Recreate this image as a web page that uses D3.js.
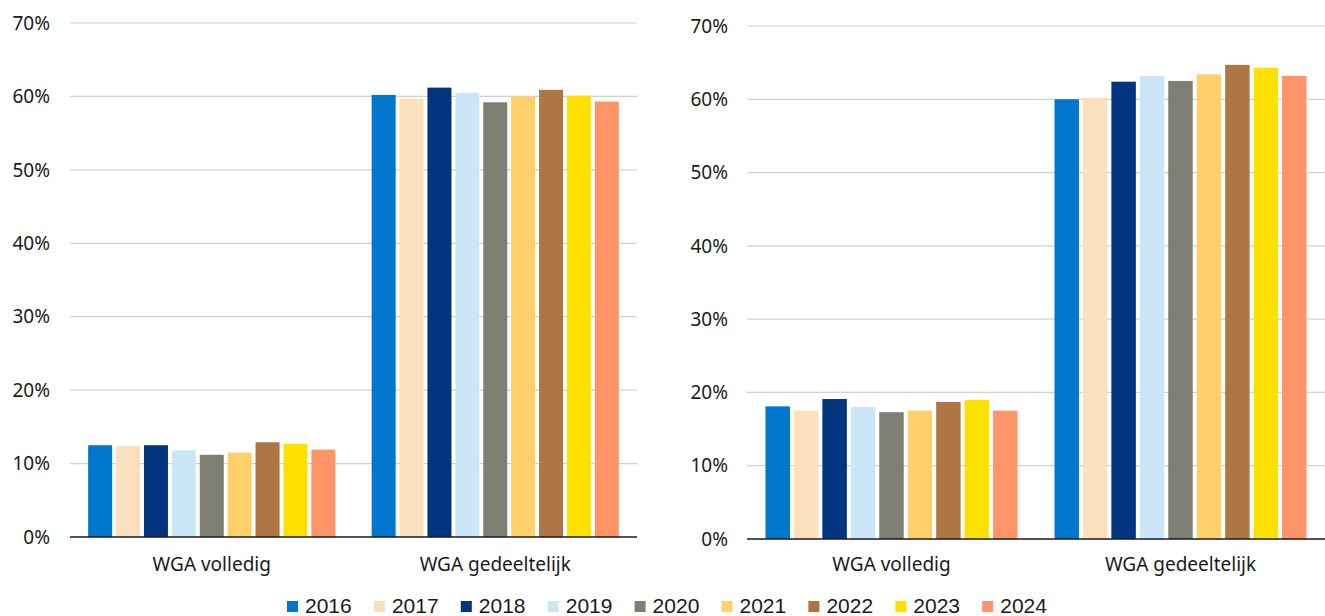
<!DOCTYPE html>
<html>
<head>
<meta charset="utf-8">
<script src="https://cdn.jsdelivr.net/npm/d3@7"></script>
<style>
  body { margin: 0; background: #fff; }
  svg text { font-family: "Noto Sans", sans-serif; fill: #1a1a1a; }
</style>
</head>
<body>
<svg id="chart" width="1325" height="616"></svg>
<script>
var categories = ["WGA volledig", "WGA gedeeltelijk"];
var years = ["2016", "2017", "2018", "2019", "2020", "2021", "2022", "2023", "2024"];
var colors = ["#0077cf", "#fbe0bd", "#01347f", "#cbe7f7", "#7e7e72", "#fed06a", "#ad7643", "#ffe100", "#ff9468"];
var yTicks = [0, 10, 20, 30, 40, 50, 60, 70];

// left panel values (%) per category, one per year
var leftVolledig = [12.5, 12.4, 12.5, 11.8, 11.2, 11.5, 12.9, 12.7, 11.9];
var leftGedeeltelijk = [60.2, 59.7, 61.2, 60.5, 59.2, 60.0, 60.9, 60.1, 59.3];
// right panel values (%)
var rightVolledig = [18.1, 17.5, 19.1, 18.0, 17.3, 17.5, 18.7, 19.0, 17.5];
var rightGedeeltelijk = [60.0, 60.2, 62.4, 63.2, 62.5, 63.4, 64.7, 64.3, 63.2];

var svg = d3.select("#chart");

function panel(opts, series) {
  var x0 = d3.scaleBand().domain(categories).range([opts.x0, opts.x1]);
  var groupW = x0.bandwidth() * 0.872;
  var x1 = d3.scaleBand().domain(years).range([0, groupW]).paddingInner(0.14);
  var y = d3.scaleLinear().domain([0, 70]).range([opts.y0, opts.y1]);

  var g = svg.append("g");

  // gridlines
  g.selectAll(".grid").data(yTicks.filter(function(d){ return d > 0; }))
    .enter().append("line")
    .attr("x1", opts.x0).attr("x2", opts.x1)
    .attr("y1", function(d){ return y(d); }).attr("y2", function(d){ return y(d); })
    .attr("stroke", "#d2d2d2").attr("stroke-width", 1.2);

  // tick labels
  g.selectAll(".tl").data(yTicks).enter().append("text")
    .attr("x", opts.labelX)
    .attr("y", function(d){ return y(d); })
    .attr("dy", "0.35em")
    .attr("text-anchor", "end")
    .style("font-size", "19px")
    .text(function(d){ return d + "%"; });

  // bars
  var groups = g.selectAll(".grp").data(categories).enter().append("g")
    .attr("transform", function(d){
      return "translate(" + (x0(d) + (x0.bandwidth() - groupW) / 2) + ",0)";
    });

  groups.selectAll("rect")
    .data(function(d, i){ return series[i].map(function(v, j){ return {year: years[j], v: v, c: colors[j]}; }); })
    .enter().append("rect")
    .attr("x", function(d){ return x1(d.year); })
    .attr("width", x1.bandwidth())
    .attr("y", function(d){ return y(d.v); })
    .attr("height", function(d){ return y(0) - y(d.v); })
    .attr("fill", function(d){ return d.c; });

  // baseline
  g.append("line")
    .attr("x1", opts.x0).attr("x2", opts.x1)
    .attr("y1", y(0)).attr("y2", y(0))
    .attr("stroke", "#1a1a1a").attr("stroke-width", 1.5);

  // category labels
  g.selectAll(".cl").data(categories).enter().append("text")
    .attr("x", function(d){ return x0(d) + x0.bandwidth() / 2; })
    .attr("y", 571)
    .attr("text-anchor", "middle")
    .style("font-size", "19px")
    .text(function(d){ return d; });
}

panel({x0: 70, x1: 637, y0: 537, y1: 23, labelX: 50}, [leftVolledig, leftGedeeltelijk]);
panel({x0: 747, x1: 1325, y0: 539, y1: 26, labelX: 728}, [rightVolledig, rightGedeeltelijk]);

// legend
var legend = svg.append("g").attr("transform", "translate(287,0)");
var item = legend.selectAll(".li").data(years).enter().append("g")
  .attr("transform", function(d, i){ return "translate(" + (i * 86.9) + ",0)"; });
item.append("rect")
  .attr("x", 0).attr("y", 601).attr("width", 11).attr("height", 11)
  .attr("fill", function(d, i){ return colors[i]; });
item.append("text")
  .attr("x", 18).attr("y", 612.5)
  .style("font-size", "21px")
  .style("font-family", "'Liberation Sans', sans-serif")
  .text(function(d){ return d; });
</script>
</body>
</html>
